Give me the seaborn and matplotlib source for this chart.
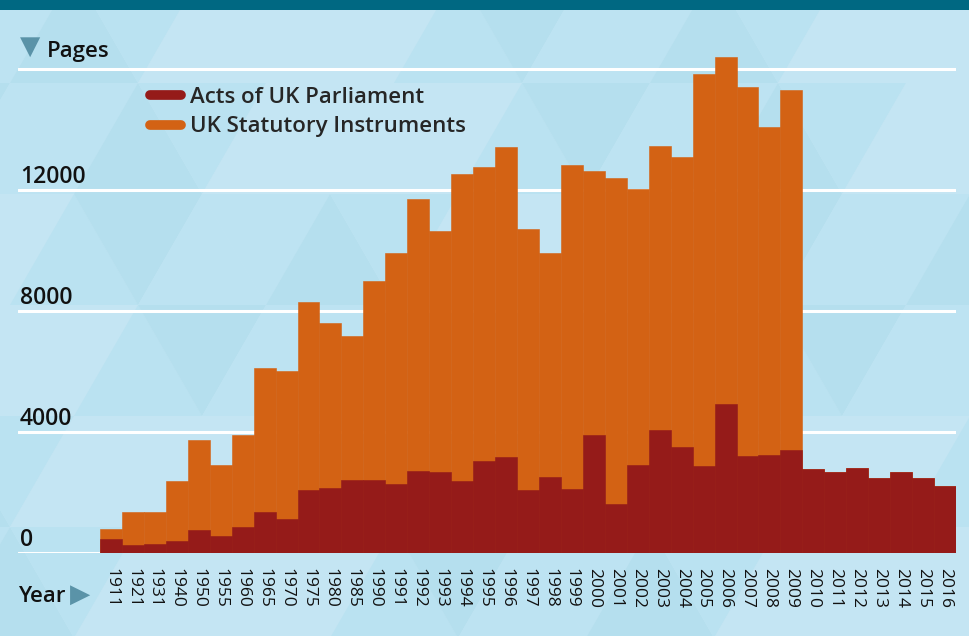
import numpy as np
import pandas as pd
import matplotlib.pyplot as plt
import seaborn as sns
from matplotlib.patches import Polygon
from matplotlib.lines import Line2D

# Data (pages per year)
years = ['1911', '1921', '1931', '1940', '1950', '1955', '1960', '1965', '1970',
         '1975', '1980', '1985', '1990', '1991', '1992', '1993', '1994', '1995',
         '1996', '1997', '1998', '1999', '2000', '2001', '2002', '2003', '2004',
         '2005', '2006', '2007', '2008', '2009', '2010', '2011', '2012', '2013',
         '2014', '2015', '2016']
acts = [460, 265, 300, 400, 760, 560, 860, 1350, 1120,
        2080, 2150, 2410, 2410, 2280, 2710, 2680, 2380, 3040,
        3170, 2080, 2510, 2120, 3900, 1620, 2910, 4070, 3500,
        2880, 4930, 3210, 3240, 3400, 2780, 2680, 2810, 2480,
        2680, 2480, 2220]
# statutory instruments stacked on top; no data after 2009
si = [330, 1090, 1060, 1980, 2980, 2350, 3040, 4760, 4890,
      6220, 5450, 4760, 6580, 7640, 8990, 7970, 10150, 9720,
      10250, 8630, 7410, 10710, 8730, 10780, 9120, 9390, 9590,
      12960, 11470, 12200, 10840, 11900, 0, 0, 0, 0,
      0, 0, 0]
yticks = [0, 4000, 8000, 12000, 16000]
ytick_labels = ['0', '4000', '8000', '12000', '']

acts_color = '#951b19'
si_color = '#d36214'
mark_color = '#5a93a8'
text_color = '#111111'

df = pd.DataFrame({'year': years, 'acts': acts, 'si': si})
df['total'] = df['acts'] + df['si']

sns.set_theme(style='white')
plt.rcParams['font.family'] = ['Open Sans', 'DejaVu Sans']

W, H = 970, 636
fig = plt.figure(figsize=(W / 100, H / 100), dpi=100)
fig.patch.set_facecolor('#c4e5f3')

# triangle background pattern
bg = fig.add_axes([0, 0, 1, 1], zorder=-5)
bg.set_xlim(0, W)
bg.set_ylim(H, 0)
bg.axis('off')
s = 128.0
h = 111.0
shades = ['#c4e5f3', '#bae2f1', '#b5dfee', '#c4e5f3', '#bde3f2']
for r in range(-1, 6):
    y0 = 83 + r * h
    x0 = 778 + r * 64
    x0 = x0 - np.ceil(x0 / s + 1) * s
    for k in range(12):
        tx = x0 + k * s
        down = [(tx, y0), (tx + s, y0), (tx + s / 2, y0 + h)]
        up = [(tx + s / 2, y0 + h), (tx + 1.5 * s, y0 + h), (tx + s, y0)]
        c1 = shades[(r * 3 + k * 2) % 5]
        c2 = shades[(r * 2 + k * 3 + 1) % 5]
        bg.add_patch(Polygon(down, closed=True, color=c1, lw=0))
        bg.add_patch(Polygon(up, closed=True, color=c2, lw=0))
bg.add_patch(plt.Rectangle((0, 0), W, 10, color='#006882', lw=0))

# main axes, positioned in pixels
ymax = 16700
px_per_page = 121 / 4000
ax_left, ax_right, ax_base = 18, 956, 553
ax_h = ymax * px_per_page
ax = fig.add_axes([ax_left / W, (H - ax_base) / H, (ax_right - ax_left) / W, ax_h / H])
ax.set_facecolor('none')

for v in yticks:
    ax.axhline(v, color='white', lw=2.2, zorder=0.5)

sns.barplot(data=df, x='year', y='total', color=si_color, saturation=1, width=1,
            edgecolor=si_color, linewidth=0.4, ax=ax, zorder=2)
sns.barplot(data=df, x='year', y='acts', color=acts_color, saturation=1, width=1,
            edgecolor=acts_color, linewidth=0.4, ax=ax, zorder=3)

bar_px = (ax_right - ax_left - 82) / len(years)
ax.set_xlim(-0.5 - 82 / bar_px, len(years) - 0.5)
ax.set_ylim(0, ymax)
ax.set_xlabel('')
ax.set_ylabel('')
ax.set_yticks([])
ax.set_xticks(range(len(years)))
ax.set_xticklabels(years, rotation=270, fontsize=12.5, color=text_color)
ax.tick_params(axis='x', length=0, pad=10.5)
sns.despine(ax=ax, left=True, bottom=True)

for v, lab in zip(yticks, ytick_labels):
    ax.annotate(lab, xy=(0, v), xycoords=('axes fraction', 'data'),
                xytext=(1.5, 5), textcoords='offset points',
                ha='left', va='baseline', fontsize=16.5, fontweight='semibold',
                color=text_color)

# axis titles with triangle markers
fig.text(30 / W, 1 - 47 / H, '\u25BC', color=mark_color, fontsize=19,
         ha='center', va='center', family=['DejaVu Sans'])
fig.text(47 / W, 1 - 51 / H, 'Pages', fontsize=16, fontweight='semibold',
         ha='left', va='center', color=text_color)
fig.text(18 / W, 1 - 597 / H, 'Year', fontsize=16, fontweight='semibold',
         ha='left', va='center', color=text_color)
fig.text(80 / W, 1 - 595 / H, '\u25B6', color=mark_color, fontsize=19,
         ha='center', va='center', family=['DejaVu Sans'])

handles = [Line2D([0], [0], color=acts_color, lw=7, solid_capstyle='round'),
           Line2D([0], [0], color=si_color, lw=7, solid_capstyle='round')]
fig.legend(handles, ['Acts of UK Parliament', 'UK Statutory Instruments'],
           loc='upper left', bbox_to_anchor=(150 / W, 1 - 87 / H), frameon=False,
           handlelength=1.4, handletextpad=0.4,
           labelspacing=0.38, borderpad=0, borderaxespad=0,
           prop={'weight': 'semibold', 'size': 16})

fig.savefig('out.png', dpi=100)
